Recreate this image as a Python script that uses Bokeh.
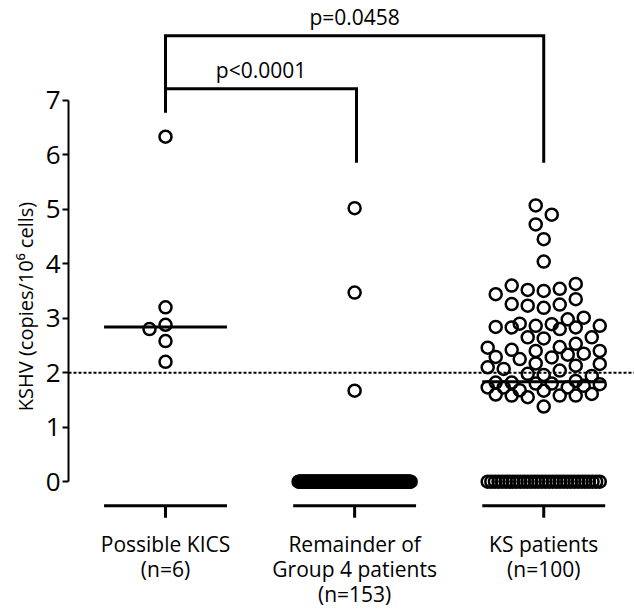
import numpy as np
from bokeh.plotting import figure
from bokeh.models import Range1d, LinearAxis, Span, ColumnDataSource, FixedTicker
from bokeh.core.properties import value
from bokeh.embed import file_html
from bokeh.resources import INLINE

# ---------------- data ----------------
categories = ["Possible KICS\n(n=6)", "Remainder of\nGroup 4 patients\n(n=153)", "KS patients\n(n=100)"]
kics = [6.33, 3.20, 2.88, 2.80, 2.58, 2.20]
remainder = [5.02, 3.47, 1.67] + [0.0] * 150
ks_patients = [5.07, 4.90, 4.72, 4.45, 4.04,
               3.63, 3.60, 3.54, 3.52, 3.50, 3.44,
               3.35, 3.26, 3.25, 3.23, 3.19,
               3.01, 2.98,
               2.90, 2.89, 2.86, 2.86, 2.84, 2.83, 2.83, 2.80,
               2.65, 2.65, 2.63,
               2.53, 2.47, 2.46, 2.42, 2.40, 2.40,
               2.35, 2.33, 2.29, 2.28, 2.25,
               2.17, 2.16, 2.13, 2.10, 2.07,
               2.04, 1.98, 1.96, 1.94,
               1.85, 1.82, 1.82, 1.80, 1.80, 1.79, 1.76, 1.73, 1.73, 1.73, 1.68, 1.67,
               1.61, 1.60, 1.58, 1.58, 1.58, 1.55,
               1.38] + [0.0] * 32
groups = [kics, remainder, ks_patients]
comparisons = [(0, 1, "p<0.0001"), (0, 2, "p=0.0458")]
threshold = 2.0
y_ticks = [0, 1, 2, 3, 4, 5, 6, 7]

# ---------------- layout helpers ----------------
PX_X = 189.0   # pixels per category unit
PX_Y = 54.5    # pixels per y unit
FONT = "Open Sans"


def swarm_offsets(vals, min_d=15.0, cand_step=8.0, max_half=56.0):
    """Greedy beeswarm in pixel space; identical repeated values are spread evenly."""
    vals = np.asarray(vals, dtype=float)
    offs = np.zeros(len(vals))
    uniq, counts = np.unique(vals, return_counts=True)
    placed = []
    cands = np.arange(-max_half, max_half + 0.1, cand_step)
    cands = cands[np.argsort(np.abs(cands), kind="stable")]
    for u, c in zip(uniq, counts):
        idx = np.where(vals == u)[0]
        if c > 3:
            xs = np.linspace(-max_half, max_half, c)
            offs[idx] = xs
            placed += [(x, u * PX_Y) for x in xs]
            continue
        for i in idx:
            y = vals[i] * PX_Y
            best, best_d = None, -1.0
            for cx in cands:
                d = min([np.hypot(cx - px, y - py) for px, py in placed] or [1e9])
                if d >= min_d:
                    best = cx
                    break
                if d > best_d:
                    best, best_d = cx, d
            offs[i] = best
            placed.append((best, y))
    return offs / PX_X


p = figure(width=634, height=612,
           x_range=Range1d(0.487, 3.48), y_range=Range1d(-2.40, 8.83),
           output_backend="svg", toolbar_location=None,
           x_axis_location=None, y_axis_location=None,
           min_border=0, min_border_left=68)
p.outline_line_color = None
p.background_fill_color = "white"
p.border_fill_color = "white"
p.grid.visible = False

yax = LinearAxis(bounds=(0, 7), ticker=FixedTicker(ticks=y_ticks),
                 axis_label="KSHV (copies/10\u2076 cells)")
yax.axis_line_width = 2
yax.axis_line_color = "black"
yax.major_tick_line_width = 2
yax.major_tick_line_color = "black"
yax.major_tick_out = 6
yax.major_tick_in = 0
yax.minor_tick_out = 0
yax.minor_tick_in = 0
yax.major_label_text_font = FONT
yax.major_label_text_font_size = "26px"
yax.major_label_text_color = "black"
yax.major_label_standoff = 2
yax.axis_label_text_font = FONT
yax.axis_label_text_font_size = "20px"
yax.axis_label_text_font_style = "normal"
yax.axis_label_text_color = "black"
yax.axis_label_standoff = 4
p.add_layout(yax, "left")

# threshold dotted line
p.add_layout(Span(location=threshold, dimension="width", line_color="black",
                  line_width=2, line_dash="3 2"))

half = 0.325
base_y = -24 / PX_Y
tick_y = -36 / PX_Y
for gi, vals in enumerate(groups):
    cx = gi + 1
    med = float(np.median(vals))
    # median line
    p.segment(x0=[cx - half], y0=[med], x1=[cx + half], y1=[med],
              line_color="black", line_width=3)
    xs = cx + swarm_offsets(vals)
    src = ColumnDataSource(dict(x=xs, y=vals))
    p.scatter("x", "y", source=src, marker="circle", size=12,
              fill_color=None, line_color="black", line_width=2.5)
    # category axis piece
    p.segment(x0=[cx - half], y0=[base_y], x1=[cx + half], y1=[base_y],
              line_color="black", line_width=3)
    p.segment(x0=[cx], y0=[base_y], x1=[cx], y1=[tick_y],
              line_color="black", line_width=3)
    # category labels
    lines = categories[gi].split("\n")
    ly = [(481 - 543 - 25 * k) / PX_Y for k in range(len(lines))]
    p.text(x=[cx] * len(lines), y=ly, text=lines, text_align="center",
           text_baseline="middle", text_font=value(FONT),
           text_font_size="21px", text_color="black")

# significance brackets
bracket_y = [(481 - 88) / PX_Y, (481 - 35) / PX_Y]
drop_y = (481 - 162) / PX_Y
left_drop = (481 - 112) / PX_Y
for k, (a, b, lab) in enumerate(comparisons):
    xa, xb = a + 1, b + 1 + (0.01 if b == 1 else 0.0)
    by = bracket_y[k]
    ya = left_drop if k == 1 else by
    p.line(x=[xa, xa, xb, xb], y=[ya, by, by, drop_y], line_color="black",
           line_width=3, line_join="miter")
    p.text(x=[(xa + xb) / 2], y=[by + 0.08], text=[lab], text_align="center",
           text_baseline="bottom", text_font=value(FONT),
           text_font_size="21px", text_color="black")

open("out.html", "w").write(file_html(p, INLINE))
